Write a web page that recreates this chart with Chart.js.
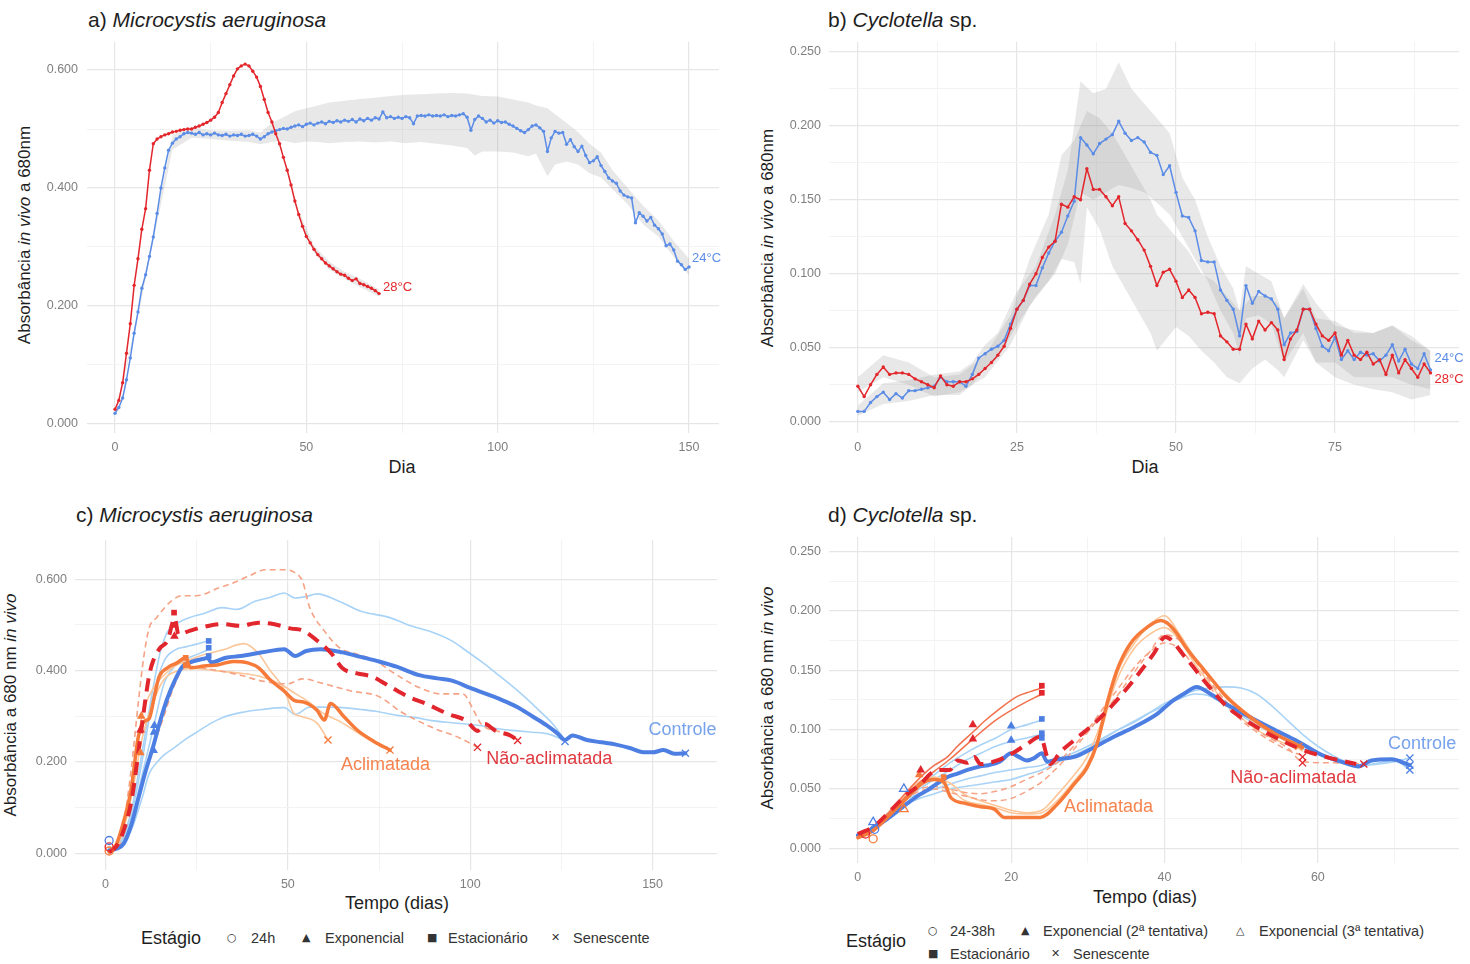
<!DOCTYPE html>
<html lang="pt">
<head>
<meta charset="utf-8">
<title>Absorbância in vivo a 680 nm</title>
<script src="https://cdn.jsdelivr.net/npm/chart.js@4.4.1/dist/chart.umd.min.js"></script>
<style>
  body { margin: 0; width: 1470px; height: 964px; position: relative; overflow: hidden; background: #fff;
         font-family: "Liberation Sans", Arial, Helvetica, sans-serif; color: #1e1e1e; }
  canvas { position: absolute; }
  .txt { position: absolute; white-space: nowrap; }
  .title { font-size: 21px; line-height: 24px; }
  .axis-x { font-size: 18px; line-height: 20px; transform: translate(-50%, -50%); }
  .axis-y { font-size: 17px; line-height: 20px; transform: translate(-50%, -50%) rotate(-90deg); }
  .leg-title { font-size: 18px; line-height: 22px; }
  .leg { font-size: 14.5px; line-height: 18px; color: #333; }
  .sym { font-family: "DejaVu Sans", sans-serif; font-size: 11px; line-height: 18px; color: #333; }
</style>
</head>
<body>

<!-- panel titles -->
<div class="txt title" style="left:88px;top:8px">a) <i>Microcystis aeruginosa</i></div>
<div class="txt title" style="left:828px;top:8px">b) <i>Cyclotella</i> sp.</div>
<div class="txt title" style="left:76px;top:503px">c) <i>Microcystis aeruginosa</i></div>
<div class="txt title" style="left:828px;top:503px">d) <i>Cyclotella</i> sp.</div>

<!-- axis titles -->
<div class="txt axis-y" style="left:25px;top:235px">Absorbância <i>in vivo</i> a 680nm</div>
<div class="txt axis-y" style="left:768px;top:238px">Absorbância <i>in vivo</i> a 680nm</div>
<div class="txt axis-y" style="left:11px;top:705px">Absorbância a 680 nm <i>in vivo</i></div>
<div class="txt axis-y" style="left:768px;top:698px">Absorbância a 680 nm <i>in vivo</i></div>
<div class="txt axis-x" style="left:402px;top:467px">Dia</div>
<div class="txt axis-x" style="left:1145px;top:467px">Dia</div>
<div class="txt axis-x" style="left:397px;top:903px">Tempo (dias)</div>
<div class="txt axis-x" style="left:1145px;top:897px">Tempo (dias)</div>

<canvas id="chartA" width="700" height="442" style="left:30px;top:22px"></canvas>
<canvas id="chartB" width="700" height="442" style="left:770px;top:22px"></canvas>
<canvas id="chartC" width="708" height="382" style="left:20px;top:520px"></canvas>
<canvas id="chartD" width="700" height="378" style="left:770px;top:517px"></canvas>

<!-- stage legends -->
<div class="txt leg-title" style="left:141px;top:927px">Estágio</div>
<div class="txt sym" style="left:227px;top:929px">○</div><div class="txt leg" style="left:251px;top:929px">24h</div>
<div class="txt sym" style="left:302px;top:929px">▲</div><div class="txt leg" style="left:325px;top:929px">Exponencial</div>
<div class="txt sym" style="left:427px;top:929px">■</div><div class="txt leg" style="left:448px;top:929px">Estacionário</div>
<div class="txt sym" style="left:551px;top:929px">✕</div><div class="txt leg" style="left:573px;top:929px">Senescente</div>

<div class="txt leg-title" style="left:846px;top:930px">Estágio</div>
<div class="txt sym" style="left:928px;top:922px">○</div><div class="txt leg" style="left:950px;top:922px">24-38h</div>
<div class="txt sym" style="left:1021px;top:922px">▲</div><div class="txt leg" style="left:1043px;top:922px">Exponencial (2ª tentativa)</div>
<div class="txt sym" style="left:1236px;top:922px">△</div><div class="txt leg" style="left:1259px;top:922px">Exponencial (3ª tentativa)</div>
<div class="txt sym" style="left:928px;top:945px">■</div><div class="txt leg" style="left:950px;top:945px">Estacionário</div>
<div class="txt sym" style="left:1051px;top:945px">✕</div><div class="txt leg" style="left:1073px;top:945px">Senescente</div>

<script>
const FONT = '"Liberation Sans", Arial, Helvetica, sans-serif';

// ---------- a) Microcystis, daily readings ----------
const aBlue = [
  0.018,0.028,0.044,0.075,0.112,0.154,0.19,0.23,0.253,0.284,
  0.317,0.357,0.40,0.434,0.464,0.476,0.483,0.487,0.492,0.494,
  0.493,0.491,0.494,0.49,0.492,0.49,0.493,0.49,0.489,0.491,
  0.488,0.49,0.489,0.491,0.488,0.489,0.491,0.488,0.483,0.487,
  0.492,0.495,0.497,0.499,0.501,0.50,0.503,0.505,0.507,0.504,
  0.508,0.51,0.507,0.51,0.512,0.509,0.513,0.511,0.514,0.512,
  0.515,0.513,0.516,0.512,0.517,0.514,0.518,0.515,0.519,0.517,
  0.529,0.519,0.521,0.518,0.52,0.518,0.521,0.519,0.509,0.522,
  0.523,0.522,0.524,0.522,0.523,0.522,0.524,0.521,0.523,0.522,
  0.524,0.526,0.52,0.498,0.516,0.522,0.518,0.512,0.515,0.51,
  0.514,0.511,0.512,0.508,0.505,0.501,0.497,0.494,0.499,0.505,
  0.507,0.502,0.496,0.462,0.485,0.496,0.493,0.494,0.474,0.482,
  0.47,0.462,0.471,0.455,0.443,0.446,0.453,0.438,0.428,0.417,
  0.412,0.408,0.395,0.388,0.385,0.383,0.341,0.358,0.352,0.344,
  0.35,0.337,0.331,0.322,0.302,0.305,0.295,0.276,0.27,0.262,
  0.266];
const aRed = [
  0.025,0.04,0.07,0.12,0.17,0.235,0.28,0.33,0.365,0.43,
  0.475,0.483,0.487,0.49,0.492,0.495,0.496,0.498,0.499,0.50,
  0.50,0.503,0.505,0.508,0.511,0.515,0.52,0.528,0.545,0.56,
  0.575,0.59,0.602,0.607,0.61,0.607,0.598,0.588,0.572,0.55,
  0.528,0.512,0.492,0.475,0.452,0.43,0.405,0.378,0.355,0.335,
  0.318,0.307,0.296,0.287,0.28,0.273,0.268,0.263,0.258,0.254,
  0.252,0.247,0.243,0.246,0.238,0.236,0.233,0.23,0.226,0.221];
const aRibDays = [0,5,10,15,20,25,30,35,38,41,44,47,50,53,56,60,64,68,72,76,80,84,88,92,94,96,100,104,108,110,113,115,118,121,124,127,130,134,138,142,146,150];
const aRibLow  = [0.015,0.15,0.31,0.465,0.485,0.483,0.48,0.478,0.474,0.478,0.48,0.476,0.479,0.478,0.476,0.478,0.479,0.477,0.479,0.476,0.478,0.475,0.472,0.468,0.455,0.462,0.462,0.46,0.454,0.458,0.42,0.44,0.445,0.44,0.425,0.418,0.398,0.372,0.338,0.318,0.283,0.252];
const aRibHigh = [0.021,0.158,0.325,0.49,0.503,0.498,0.497,0.498,0.494,0.51,0.52,0.53,0.535,0.54,0.545,0.548,0.551,0.553,0.556,0.558,0.559,0.56,0.561,0.56,0.558,0.556,0.555,0.55,0.545,0.54,0.535,0.525,0.51,0.495,0.475,0.46,0.43,0.4,0.37,0.345,0.31,0.28];
const aRedRibDays = [48,52,56,60,64,69];
const aRedRibLow  = [0.35,0.29,0.262,0.246,0.232,0.216];
const aRedRibHigh = [0.362,0.302,0.275,0.258,0.246,0.228];

// ---------- b) Cyclotella, daily readings ----------
const bBlue = [
  0.007,0.007,0.013,0.017,0.02,0.015,0.019,0.016,0.021,0.021,
  0.022,0.023,0.024,0.03,0.027,0.027,0.027,0.024,0.032,0.043,
  0.046,0.049,0.051,0.055,0.066,0.076,0.082,0.092,0.092,0.104,
  0.114,0.122,0.128,0.139,0.149,0.192,0.187,0.181,0.188,0.191,
  0.194,0.203,0.195,0.19,0.192,0.189,0.182,0.18,0.167,0.173,
  0.155,0.139,0.138,0.129,0.109,0.108,0.108,0.089,0.082,0.076,
  0.058,0.092,0.08,0.088,0.085,0.083,0.076,0.052,0.06,0.061,
  0.076,0.076,0.063,0.051,0.048,0.057,0.042,0.048,0.042,0.047,
  0.045,0.046,0.041,0.045,0.052,0.041,0.049,0.039,0.036,0.046,
  0.035];
const bRed = [
  0.024,0.017,0.025,0.032,0.037,0.032,0.033,0.033,0.032,0.029,
  0.027,0.025,0.023,0.031,0.025,0.024,0.027,0.027,0.029,0.032,
  0.036,0.04,0.045,0.051,0.063,0.076,0.082,0.093,0.1,0.111,
  0.118,0.122,0.147,0.145,0.152,0.15,0.171,0.157,0.157,0.152,
  0.146,0.152,0.134,0.129,0.123,0.116,0.105,0.092,0.101,0.103,
  0.095,0.084,0.089,0.084,0.073,0.074,0.073,0.058,0.054,0.049,
  0.049,0.066,0.056,0.068,0.062,0.067,0.062,0.042,0.056,0.062,
  0.076,0.076,0.066,0.058,0.055,0.06,0.045,0.055,0.045,0.042,
  0.047,0.039,0.042,0.032,0.045,0.033,0.042,0.036,0.03,0.039,
  0.033];
const bBlueRibDays = [0,4,8,12,16,18,20,22,25,28,31,33,35,37,39,41,43,45,47,49,51,53,55,57,59,60,61,63,65,67,70,72,75,78,81,84,87,90];
const bBlueRibLow  = [0.004,0.012,0.014,0.018,0.018,0.025,0.036,0.043,0.065,0.085,0.1,0.12,0.155,0.15,0.155,0.16,0.158,0.155,0.148,0.14,0.125,0.11,0.095,0.075,0.06,0.045,0.07,0.072,0.066,0.04,0.06,0.04,0.04,0.03,0.03,0.03,0.025,0.022];
const bBlueRibHigh = [0.011,0.026,0.028,0.032,0.034,0.04,0.052,0.06,0.088,0.105,0.14,0.17,0.23,0.222,0.225,0.243,0.225,0.215,0.205,0.195,0.165,0.15,0.125,0.105,0.09,0.075,0.105,0.1,0.095,0.07,0.09,0.07,0.068,0.06,0.06,0.065,0.055,0.048];
const bRedRibDays = [0,4,8,12,16,20,24,27,30,32,34,35,36,38,40,42,44,46,47,50,52,54,56,58,60,62,64,66,67,70,72,75,78,81,84,87,90];
const bRedRibLow  = [0.02,0.03,0.025,0.017,0.02,0.03,0.052,0.078,0.095,0.11,0.108,0.093,0.145,0.13,0.105,0.09,0.075,0.06,0.048,0.064,0.058,0.048,0.04,0.03,0.026,0.036,0.042,0.035,0.03,0.055,0.04,0.03,0.025,0.022,0.02,0.015,0.018];
const bRedRibHigh = [0.03,0.045,0.04,0.03,0.032,0.045,0.072,0.11,0.14,0.18,0.19,0.2,0.21,0.205,0.195,0.18,0.165,0.15,0.14,0.125,0.115,0.1,0.095,0.085,0.075,0.085,0.085,0.08,0.07,0.093,0.08,0.065,0.062,0.06,0.065,0.058,0.048];

// ---------- c) Microcystis, acclimation experiment ----------
const cCtrlDays = [1,3,5,7,9,11,13,15,17,19,21,24,27,28,29,33,37,43,49,52,55,59,65,70,75,80,86,91,95,100,104,108,113,117,121,124,126,128,132,136,140,144,147,150,153,156,159];
const cCtrlMean = [0.006,0.01,0.021,0.06,0.12,0.18,0.232,0.29,0.34,0.378,0.408,0.42,0.426,0.428,0.418,0.428,0.432,0.44,0.447,0.432,0.443,0.447,0.44,0.43,0.42,0.408,0.39,0.383,0.378,0.362,0.35,0.338,0.32,0.3,0.28,0.262,0.248,0.258,0.248,0.243,0.238,0.23,0.222,0.221,0.226,0.218,0.219];
const cCtrlRep1Days = [1,4,7,10,13,15,17,20,23,27,32,36,41,45,49,52,55,58,64,70,78,83,90,95,99,103,107,113,119,123,126];
const cCtrlRep1 = [0.01,0.025,0.09,0.22,0.36,0.44,0.485,0.505,0.516,0.525,0.538,0.534,0.552,0.56,0.57,0.559,0.562,0.568,0.552,0.53,0.516,0.5,0.483,0.465,0.443,0.42,0.395,0.356,0.312,0.28,0.247];
const cCtrlRep2Days = [1,4,7,10,12,14,16,19,22,25,29,32,37,43,49,52,56,60,65,70,74,80,85,90,95,99,104,108,113,117,121,126];
const cCtrlRep2 = [0.005,0.015,0.05,0.12,0.175,0.198,0.215,0.232,0.25,0.265,0.285,0.297,0.308,0.315,0.319,0.304,0.32,0.32,0.319,0.315,0.311,0.302,0.297,0.29,0.286,0.283,0.278,0.272,0.268,0.265,0.262,0.247];
const cShortDays = [1,4,7,10,13,16,19,22,25,28];
const cCtrlRep3 = [0.008,0.022,0.08,0.2,0.34,0.42,0.445,0.452,0.458,0.465];
const cCtrlRep4 = [0.006,0.02,0.07,0.17,0.27,0.37,0.41,0.425,0.435,0.445];
const cNaoDays = [1,3,5,7,8,9,10,11,12,13,15,17,19,20,23,26,32,37,42,46,51,54,58,62,65,69,73,78,83,88,94,99,102,104,107,111,113];
const cNaoMean = [0.002,0.015,0.05,0.11,0.16,0.22,0.28,0.34,0.39,0.42,0.45,0.465,0.515,0.479,0.487,0.494,0.502,0.498,0.505,0.502,0.492,0.488,0.466,0.437,0.405,0.394,0.387,0.365,0.343,0.327,0.305,0.29,0.268,0.283,0.268,0.258,0.247];
const cNaoRep1Days = [1,3,5,7,9,10.5,12,14,18,21,25,31,35,39,44,49,52,54,56,60,64,69,74,78,84,86,92,98,101,103,108,113];
const cNaoRep1 = [0.003,0.02,0.07,0.18,0.33,0.43,0.494,0.516,0.552,0.564,0.564,0.581,0.592,0.606,0.621,0.621,0.614,0.596,0.538,0.487,0.451,0.436,0.422,0.40,0.371,0.363,0.349,0.349,0.312,0.283,0.266,0.25];
const cNaoRep2Days = [1,4,7,10,13,16,19,22,28,37,43,50,54,60,67,75,81,90,97,102];
const cNaoRep2 = [0.002,0.02,0.06,0.15,0.23,0.3,0.37,0.41,0.404,0.39,0.377,0.371,0.382,0.371,0.356,0.343,0.31,0.274,0.253,0.232];
const cAclDays = [1,3,5,7,9,10.5,12,13.3,14.6,17,19.6,22,23.3,27,31,35,39,42,45,49,52,54.4,58,60,61.7,65.4,69,73.6,78];
const cAclMean = [0.003,0.02,0.07,0.138,0.255,0.288,0.295,0.339,0.384,0.406,0.417,0.428,0.406,0.41,0.413,0.42,0.417,0.406,0.381,0.355,0.334,0.331,0.313,0.292,0.328,0.299,0.27,0.245,0.226];
const cAclRep1Days = [1,4,7,10,13,16,19,22,25,32,38,42,45,49,51.6,53.5,58,61];
const cAclRep1 = [0.002,0.03,0.15,0.3,0.36,0.39,0.41,0.42,0.43,0.445,0.459,0.437,0.402,0.358,0.307,0.30,0.285,0.248];
const cAclRep2Days = [1,4,7,10,13,16,20,24,30,36,42,48,52,56,60,64,68,73,78];
const cAclRep2 = [0.004,0.03,0.12,0.25,0.33,0.38,0.40,0.405,0.40,0.395,0.388,0.37,0.35,0.33,0.305,0.29,0.27,0.245,0.226];
// stage samples [day, absorbance]
const cCircle = { ctrl: [[1,0.028]], nao: [[1,0.014]], acl: [[1,0.005]] };
const cTri    = { ctrl: [[13.2,0.225],[13.3,0.265],[13.4,0.28]], nao: [[9.6,0.27],[18.9,0.475]], acl: [[9.6,0.22],[9.8,0.30]] };
const cSquare = { ctrl: [[28.3,0.465],[28.3,0.45],[28.3,0.432]], nao: [[18.8,0.527],[18.8,0.50]], acl: [[22,0.428],[22,0.412]] };
const cCross  = { ctrl: [[126,0.245],[159,0.219]], nao: [[102,0.232],[113,0.247]], acl: [[61,0.248],[78,0.226]] };

// ---------- d) Cyclotella, acclimation experiment ----------
const dCtrlDays = [0,1,2,3,4.5,6.5,8,9.1,10,11.7,13,14.3,16,17,18.5,20,21,22,23,24,24.7,26,28.2,30.8,33.4,36,39,40.8,42.5,44.2,46,48.2,51.3,54.3,57.4,60.4,63.5,65.3,67,69.6,72];
const dCtrlMean = [0.011,0.013,0.017,0.021,0.028,0.038,0.045,0.049,0.053,0.06,0.063,0.066,0.069,0.07,0.073,0.08,0.077,0.074,0.076,0.08,0.073,0.075,0.077,0.085,0.094,0.102,0.113,0.123,0.13,0.136,0.13,0.121,0.11,0.1,0.09,0.079,0.072,0.069,0.074,0.075,0.07];
const dDays24 = [0,2,4,6,8,10,12,14,16,18,20,22,24];
const dDays58 = [0,2,4,6,8,10,12,14,16,18,20,22,24,26,28,30,32,34,36,38,40,42,44,46,48,50,52,54,56,58];
const dDays72 = [0,2,4,6,8,10,12,14,16,18,20,22,24,26,28,30,32,34,36,38,40,42,44,46,48,50,52,54,56,58,60,62,64,66,68,70,72];
const dCtrlRep1 = [0.012,0.018,0.03,0.042,0.052,0.062,0.072,0.08,0.087,0.093,0.1,0.104,0.108];
const dCtrlRep2 = [0.01,0.016,0.028,0.04,0.05,0.058,0.066,0.074,0.08,0.086,0.09,0.093,0.096];
const dCtrlRep3 = [0.01,0.016,0.026,0.036,0.042,0.046,0.05,0.052,0.054,0.056,0.058,0.062,0.066,0.072,0.078,0.084,0.092,0.1,0.106,0.114,0.122,0.128,0.133,0.135,0.136,0.135,0.13,0.12,0.108,0.096,0.086,0.078,0.072,0.07,0.072,0.074,0.066];
const dCtrlRep4 = [0.012,0.018,0.028,0.04,0.046,0.05,0.054,0.058,0.061,0.064,0.066,0.068,0.07,0.075,0.08,0.086,0.093,0.1,0.107,0.114,0.12,0.126,0.13,0.128,0.12,0.112,0.104,0.097,0.09,0.084,0.079,0.074,0.071,0.07,0.071,0.073,0.076];
const dNaoDays = [0,2,4.3,6.5,8.2,9.5,10.8,12,13,14.3,15.2,16,18.2,20.4,22.1,23.8,25.1,26.4,28.2,30.8,33.4,36,38.6,40.1,42.7,45.2,48.2,51.3,54.3,58,61,65];
const dNaoMean = [0.012,0.018,0.032,0.046,0.054,0.063,0.066,0.066,0.074,0.072,0.077,0.071,0.074,0.081,0.088,0.094,0.071,0.081,0.091,0.105,0.122,0.142,0.164,0.178,0.161,0.141,0.119,0.105,0.094,0.083,0.077,0.071];
const dNaoRep1Days = [0,2,4,6,8.6,10,11.7,13,15.2,16.5,18.2,20.8,22.5,24];
const dNaoRep1 = [0.012,0.018,0.03,0.045,0.0625,0.07,0.077,0.086,0.099,0.107,0.116,0.128,0.132,0.135];
const dNaoRep2Days = [0,2,4,6,8,10,12,15,18,21,24];
const dNaoRep2 = [0.01,0.016,0.028,0.042,0.055,0.065,0.075,0.092,0.108,0.12,0.13];
const dNaoRep3 = [0.012,0.018,0.03,0.042,0.05,0.052,0.05,0.047,0.046,0.048,0.052,0.058,0.064,0.072,0.085,0.1,0.118,0.135,0.152,0.165,0.173,0.168,0.152,0.135,0.12,0.108,0.098,0.09,0.083,0.078];
const dNaoRep4Days = [0,2,4,6,8,10,12,14,16,18,20,22,24,26,28,30,32,34,36,38,40,42,44,46,48,50,52,54,56,58,62,66];
const dNaoRep4 = [0.01,0.016,0.028,0.04,0.048,0.05,0.047,0.044,0.041,0.04,0.042,0.048,0.056,0.068,0.082,0.098,0.114,0.13,0.148,0.165,0.18,0.175,0.158,0.14,0.124,0.11,0.1,0.092,0.085,0.073,0.072,0.071];
const dAclDays = [0,2,4.3,6.5,8.2,9.9,11.2,12.1,13.9,16,17.8,19.1,21.2,23.8,26,28.2,29.9,31.2,32.5,33.8,35.5,37.7,39.5,40.3,41.5,42.7,45.2,48.2,51.3,54.3,58];
const dAclMean = [0.009,0.015,0.029,0.043,0.054,0.058,0.056,0.043,0.038,0.035,0.033,0.026,0.026,0.026,0.037,0.054,0.068,0.088,0.122,0.15,0.172,0.186,0.192,0.19,0.182,0.17,0.15,0.127,0.11,0.097,0.085];
const dAclRep1 = [0.008,0.014,0.028,0.04,0.052,0.058,0.05,0.04,0.037,0.034,0.03,0.029,0.03,0.04,0.055,0.072,0.105,0.15,0.172,0.188,0.196,0.18,0.16,0.143,0.127,0.115,0.105,0.097,0.09,0.082];
const dAclRep2 = [0.01,0.016,0.03,0.044,0.056,0.06,0.055,0.045,0.04,0.036,0.032,0.03,0.032,0.045,0.06,0.078,0.11,0.145,0.168,0.18,0.186,0.175,0.155,0.138,0.122,0.11,0.1,0.093,0.088,0.086];
const dCircle  = { ctrl: [[2.2,0.016]], nao: [[1,0.012]], acl: [[2,0.008]] };
const dTri     = { ctrl: [[20,0.103],[20,0.091]], nao: [[15,0.104],[15,0.092],[8.2,0.066]], acl: [[8,0.062]] };
const dTriOpen = { ctrl: [[6,0.05],[2,0.022]], acl: [[6,0.033]] };
const dSquare  = { ctrl: [[24,0.109],[24,0.097],[24,0.093]], nao: [[24,0.137],[24,0.131]], acl: [[11.2,0.06]] };
const dCross   = { ctrl: [[72,0.076],[72,0.07],[72,0.066]], nao: [[58,0.072],[58,0.077],[66,0.071]], acl: [[57.5,0.086]] };

// ---------- colours ----------
const RED = '#e3262c', BLUE = '#5b8ce6', RIBBON = 'rgba(150,150,150,0.22)';
const CTRL = '#4d7fe3', CTRL_LIGHT = '#a9d3f6';
const NAO = '#e2262d', NAO_MID = '#f2704c', NAO_LIGHT = '#f6a285';
const ACL = '#f67a3a', ACL_LIGHT = '#fcc699';
const GROUP_COLOR = { ctrl: CTRL, nao: NAO, acl: ACL };

// ---------- helpers ----------
const dayRange = (from, to) => { const out = []; for (let d = from; d <= to; d++) out.push(d); return out; };
const pts = (xs, ys) => xs.map((x, i) => ({ x, y: ys[i] }));

function series(xs, ys, color, width, extra) {
  return Object.assign({
    data: pts(xs, ys), borderColor: color, borderWidth: width,
    pointRadius: 0, fill: false, tension: 0, order: 5,
    borderJoinStyle: 'round', borderCapStyle: 'round'
  }, extra || {});
}

function dotted(xs, ys, color) {
  return series(xs, ys, color, 1.5, {
    pointRadius: 1.7, pointBackgroundColor: color, pointBorderWidth: 0, order: 5
  });
}

function band(xs, lo, hi, color) {
  return [
    { data: pts(xs, lo), borderColor: 'rgba(0,0,0,0)', borderWidth: 0, pointRadius: 0, fill: false, order: 20 },
    { data: pts(xs, hi), borderColor: 'rgba(0,0,0,0)', borderWidth: 0, pointRadius: 0, fill: '-1', backgroundColor: color, order: 20 }
  ];
}

function marks(groups, style, radius, hollow) {
  return Object.keys(groups).map(g => ({
    data: groups[g].map(([x, y]) => ({ x, y })),
    showLine: false, order: 0,
    pointStyle: style, pointRadius: radius,
    pointBackgroundColor: hollow ? 'rgba(0,0,0,0)' : GROUP_COLOR[g],
    pointBorderColor: GROUP_COLOR[g],
    pointBorderWidth: hollow || style === 'crossRot' ? 1.3 : 0
  }));
}

// text drawn at data coordinates (series end labels and group names)
function labelPlugin(items) {
  return {
    id: 'textLabels',
    afterDatasetsDraw(chart) {
      const { ctx } = chart;
      const xs = chart.scales.x, ys = chart.scales.y;
      ctx.save();
      items.forEach(it => {
        ctx.font = `${it.size}px ${FONT}`;
        ctx.fillStyle = it.color;
        ctx.textAlign = it.align || 'center';
        ctx.textBaseline = 'middle';
        ctx.fillText(it.text, xs.getPixelForValue(it.x) + (it.dx || 0), ys.getPixelForValue(it.y) + (it.dy || 0));
      });
      ctx.restore();
    }
  };
}

// top padding is kept larger than the half-height of the top tick label,
// so the plot area starts exactly 20px below the canvas edge
function buildPanel(id, spec) {
  const majorX = new Set(spec.xMajor), majorY = new Set(spec.yMajor);
  const xTicks = spec.xMajor.concat(spec.xMinor).sort((a, b) => a - b);
  const yTicks = spec.yMajor.concat(spec.yMinor).sort((a, b) => a - b);
  const grid = set => ({
    color: c => (c.tick && set.has(c.tick.value)) ? '#e6e6e6' : '#f2f2f2',
    lineWidth: c => (c.tick && set.has(c.tick.value)) ? 1.2 : 0.9,
    drawTicks: false
  });
  return new Chart(document.getElementById(id), {
    type: 'line',
    data: { datasets: spec.datasets },
    options: {
      responsive: false, animation: false, events: [],
      layout: { padding: { top: 20, right: 11, left: 0, bottom: 0 } },
      plugins: { legend: { display: false }, tooltip: { enabled: false } },
      scales: {
        x: {
          type: 'linear', min: spec.xMin, max: spec.xMax,
          afterBuildTicks: s => { s.ticks = xTicks.map(v => ({ value: v })); },
          afterFit: s => { s.height = spec.xHeight; },
          grid: grid(majorX), border: { display: false },
          ticks: { autoSkip: false, maxRotation: 0, padding: 7, color: '#808080', font: { size: 12.5 },
                   callback: v => majorX.has(v) ? String(v) : '' }
        },
        y: {
          type: 'linear', min: spec.yMin, max: spec.yMax,
          afterBuildTicks: s => { s.ticks = yTicks.map(v => ({ value: v })); },
          afterFit: s => { s.width = spec.yWidth; },
          grid: grid(majorY), border: { display: false },
          ticks: { autoSkip: false, padding: spec.yPad, color: '#808080', font: { size: 12.5 },
                   callback: v => majorY.has(v) ? v.toFixed(3) : '' }
        }
      }
    },
    plugins: [labelPlugin(spec.labels || [])]
  });
}

const aDays = dayRange(0, aBlue.length - 1);
const aRedDays = dayRange(0, aRed.length - 1);
const bDays = dayRange(0, bBlue.length - 1);
const last = arr => arr[arr.length - 1];

// a) Microcystis aeruginosa
buildPanel('chartA', {
  xMin: -7.32, xMax: 157.83, yMin: -0.0153, yMax: 0.6475,
  xMajor: [0, 50, 100, 150], xMinor: [25, 75, 125],
  yMajor: [0, 0.2, 0.4, 0.6], yMinor: [0.1, 0.3, 0.5],
  yWidth: 57, xHeight: 31, yPad: 9,
  datasets: [
    dotted(aRedDays, aRed, RED),
    dotted(aDays, aBlue, BLUE),
    ...band(aRibDays, aRibLow, aRibHigh, RIBBON),
    ...band(aRedRibDays, aRedRibLow, aRedRibHigh, RIBBON)
  ],
  labels: [
    { text: '28°C', x: last(aRedDays), y: last(aRed), dx: 4, dy: -6, align: 'left', color: RED, size: 13 },
    { text: '24°C', x: last(aDays), y: last(aBlue), dx: 3, dy: -9, align: 'left', color: BLUE, size: 13 }
  ]
});

// b) Cyclotella sp.
buildPanel('chartB', {
  xMin: -4.53, xMax: 94.48, yMin: -0.0076, yMax: 0.2566,
  xMajor: [0, 25, 50, 75], xMinor: [12.5, 37.5, 62.5, 87.5],
  yMajor: [0, 0.05, 0.1, 0.15, 0.2, 0.25], yMinor: [0.025, 0.075, 0.125, 0.175, 0.225],
  yWidth: 59, xHeight: 31, yPad: 8,
  datasets: [
    dotted(bDays, bRed, RED),
    dotted(bDays, bBlue, BLUE),
    ...band(bBlueRibDays, bBlueRibLow, bBlueRibHigh, RIBBON),
    ...band(bRedRibDays, bRedRibLow, bRedRibHigh, RIBBON)
  ],
  labels: [
    { text: '24°C', x: last(bDays), y: last(bBlue), dx: 4, dy: -12, align: 'left', color: BLUE, size: 13 },
    { text: '28°C', x: last(bDays), y: last(bRed), dx: 4, dy: 7, align: 'left', color: RED, size: 13 }
  ]
});

const smooth = { cubicInterpolationMode: 'monotone' };
const thinDash = { cubicInterpolationMode: 'monotone', borderDash: [6, 4], borderCapStyle: 'butt' };
const thickDash = { cubicInterpolationMode: 'monotone', borderDash: [13, 8], borderCapStyle: 'butt', order: 1 };
const thick = { cubicInterpolationMode: 'monotone', order: 1 };

// c) Microcystis aeruginosa, acclimation
buildPanel('chartC', {
  xMin: -8.36, xMax: 167.67, yMin: -0.0366, yMax: 0.686,
  xMajor: [0, 50, 100, 150], xMinor: [25, 75, 125],
  yMajor: [0, 0.2, 0.4, 0.6], yMinor: [0.1, 0.3, 0.5],
  yWidth: 55, xHeight: 32, yPad: 8,
  datasets: [
    ...marks(cCircle, 'circle', 4, true),
    ...marks(cTri, 'triangle', 5, false),
    ...marks(cSquare, 'rect', 4, false),
    ...marks(cCross, 'crossRot', 5, false),
    series(cNaoDays, cNaoMean, NAO, 4, thickDash),
    series(cAclDays, cAclMean, ACL, 3.5, thick),
    series(cCtrlDays, cCtrlMean, CTRL, 4, thick),
    series(cNaoRep1Days, cNaoRep1, NAO_LIGHT, 1.6, thinDash),
    series(cNaoRep2Days, cNaoRep2, NAO_LIGHT, 1.6, thinDash),
    series(cAclRep1Days, cAclRep1, ACL_LIGHT, 1.6, smooth),
    series(cAclRep2Days, cAclRep2, ACL_LIGHT, 1.6, smooth),
    series(cCtrlRep1Days, cCtrlRep1, CTRL_LIGHT, 1.6, smooth),
    series(cCtrlRep2Days, cCtrlRep2, CTRL_LIGHT, 1.6, smooth),
    series(cShortDays, cCtrlRep3, CTRL_LIGHT, 1.6, smooth),
    series(cShortDays, cCtrlRep4, CTRL_LIGHT, 1.6, smooth)
  ],
  labels: [
    { text: 'Aclimatada', x: 76.8, y: 0.194, color: '#f5844e', size: 18 },
    { text: 'Não-aclimatada', x: 121.7, y: 0.207, color: '#e03a40', size: 18 },
    { text: 'Controle', x: 158.2, y: 0.269, color: '#77a2ec', size: 18 }
  ]
});

// d) Cyclotella sp., acclimation
buildPanel('chartD', {
  xMin: -3.76, xMax: 78.41, yMin: -0.0124, yMax: 0.2623,
  xMajor: [0, 20, 40, 60], xMinor: [10, 30, 50, 70],
  yMajor: [0, 0.05, 0.1, 0.15, 0.2, 0.25], yMinor: [0.025, 0.075, 0.125, 0.175, 0.225],
  yWidth: 59, xHeight: 32, yPad: 8,
  datasets: [
    ...marks(dCircle, 'circle', 4, true),
    ...marks(dTri, 'triangle', 5, false),
    ...marks(dTriOpen, 'triangle', 5, true),
    ...marks(dSquare, 'rect', 4, false),
    ...marks(dCross, 'crossRot', 5, false),
    series(dNaoDays, dNaoMean, NAO, 4, thickDash),
    series(dAclDays, dAclMean, ACL, 3.5, thick),
    series(dCtrlDays, dCtrlMean, CTRL, 4, thick),
    series(dNaoRep1Days, dNaoRep1, NAO_MID, 1.5, smooth),
    series(dNaoRep2Days, dNaoRep2, NAO_MID, 1.5, smooth),
    series(dDays58, dNaoRep3, NAO_LIGHT, 1.5, thinDash),
    series(dNaoRep4Days, dNaoRep4, NAO_LIGHT, 1.5, thinDash),
    series(dDays58, dAclRep1, ACL_LIGHT, 1.6, smooth),
    series(dDays58, dAclRep2, ACL_LIGHT, 1.6, smooth),
    series(dDays24, dCtrlRep1, CTRL_LIGHT, 1.6, smooth),
    series(dDays24, dCtrlRep2, CTRL_LIGHT, 1.6, smooth),
    series(dDays72, dCtrlRep3, CTRL_LIGHT, 1.6, smooth),
    series(dDays72, dCtrlRep4, CTRL_LIGHT, 1.6, smooth)
  ],
  labels: [
    { text: 'Aclimatada', x: 32.7, y: 0.035, color: '#f5844e', size: 18 },
    { text: 'Não-aclimatada', x: 56.8, y: 0.059, color: '#e03a40', size: 18 },
    { text: 'Controle', x: 73.6, y: 0.088, color: '#77a2ec', size: 18 }
  ]
});
</script>
</body>
</html>
